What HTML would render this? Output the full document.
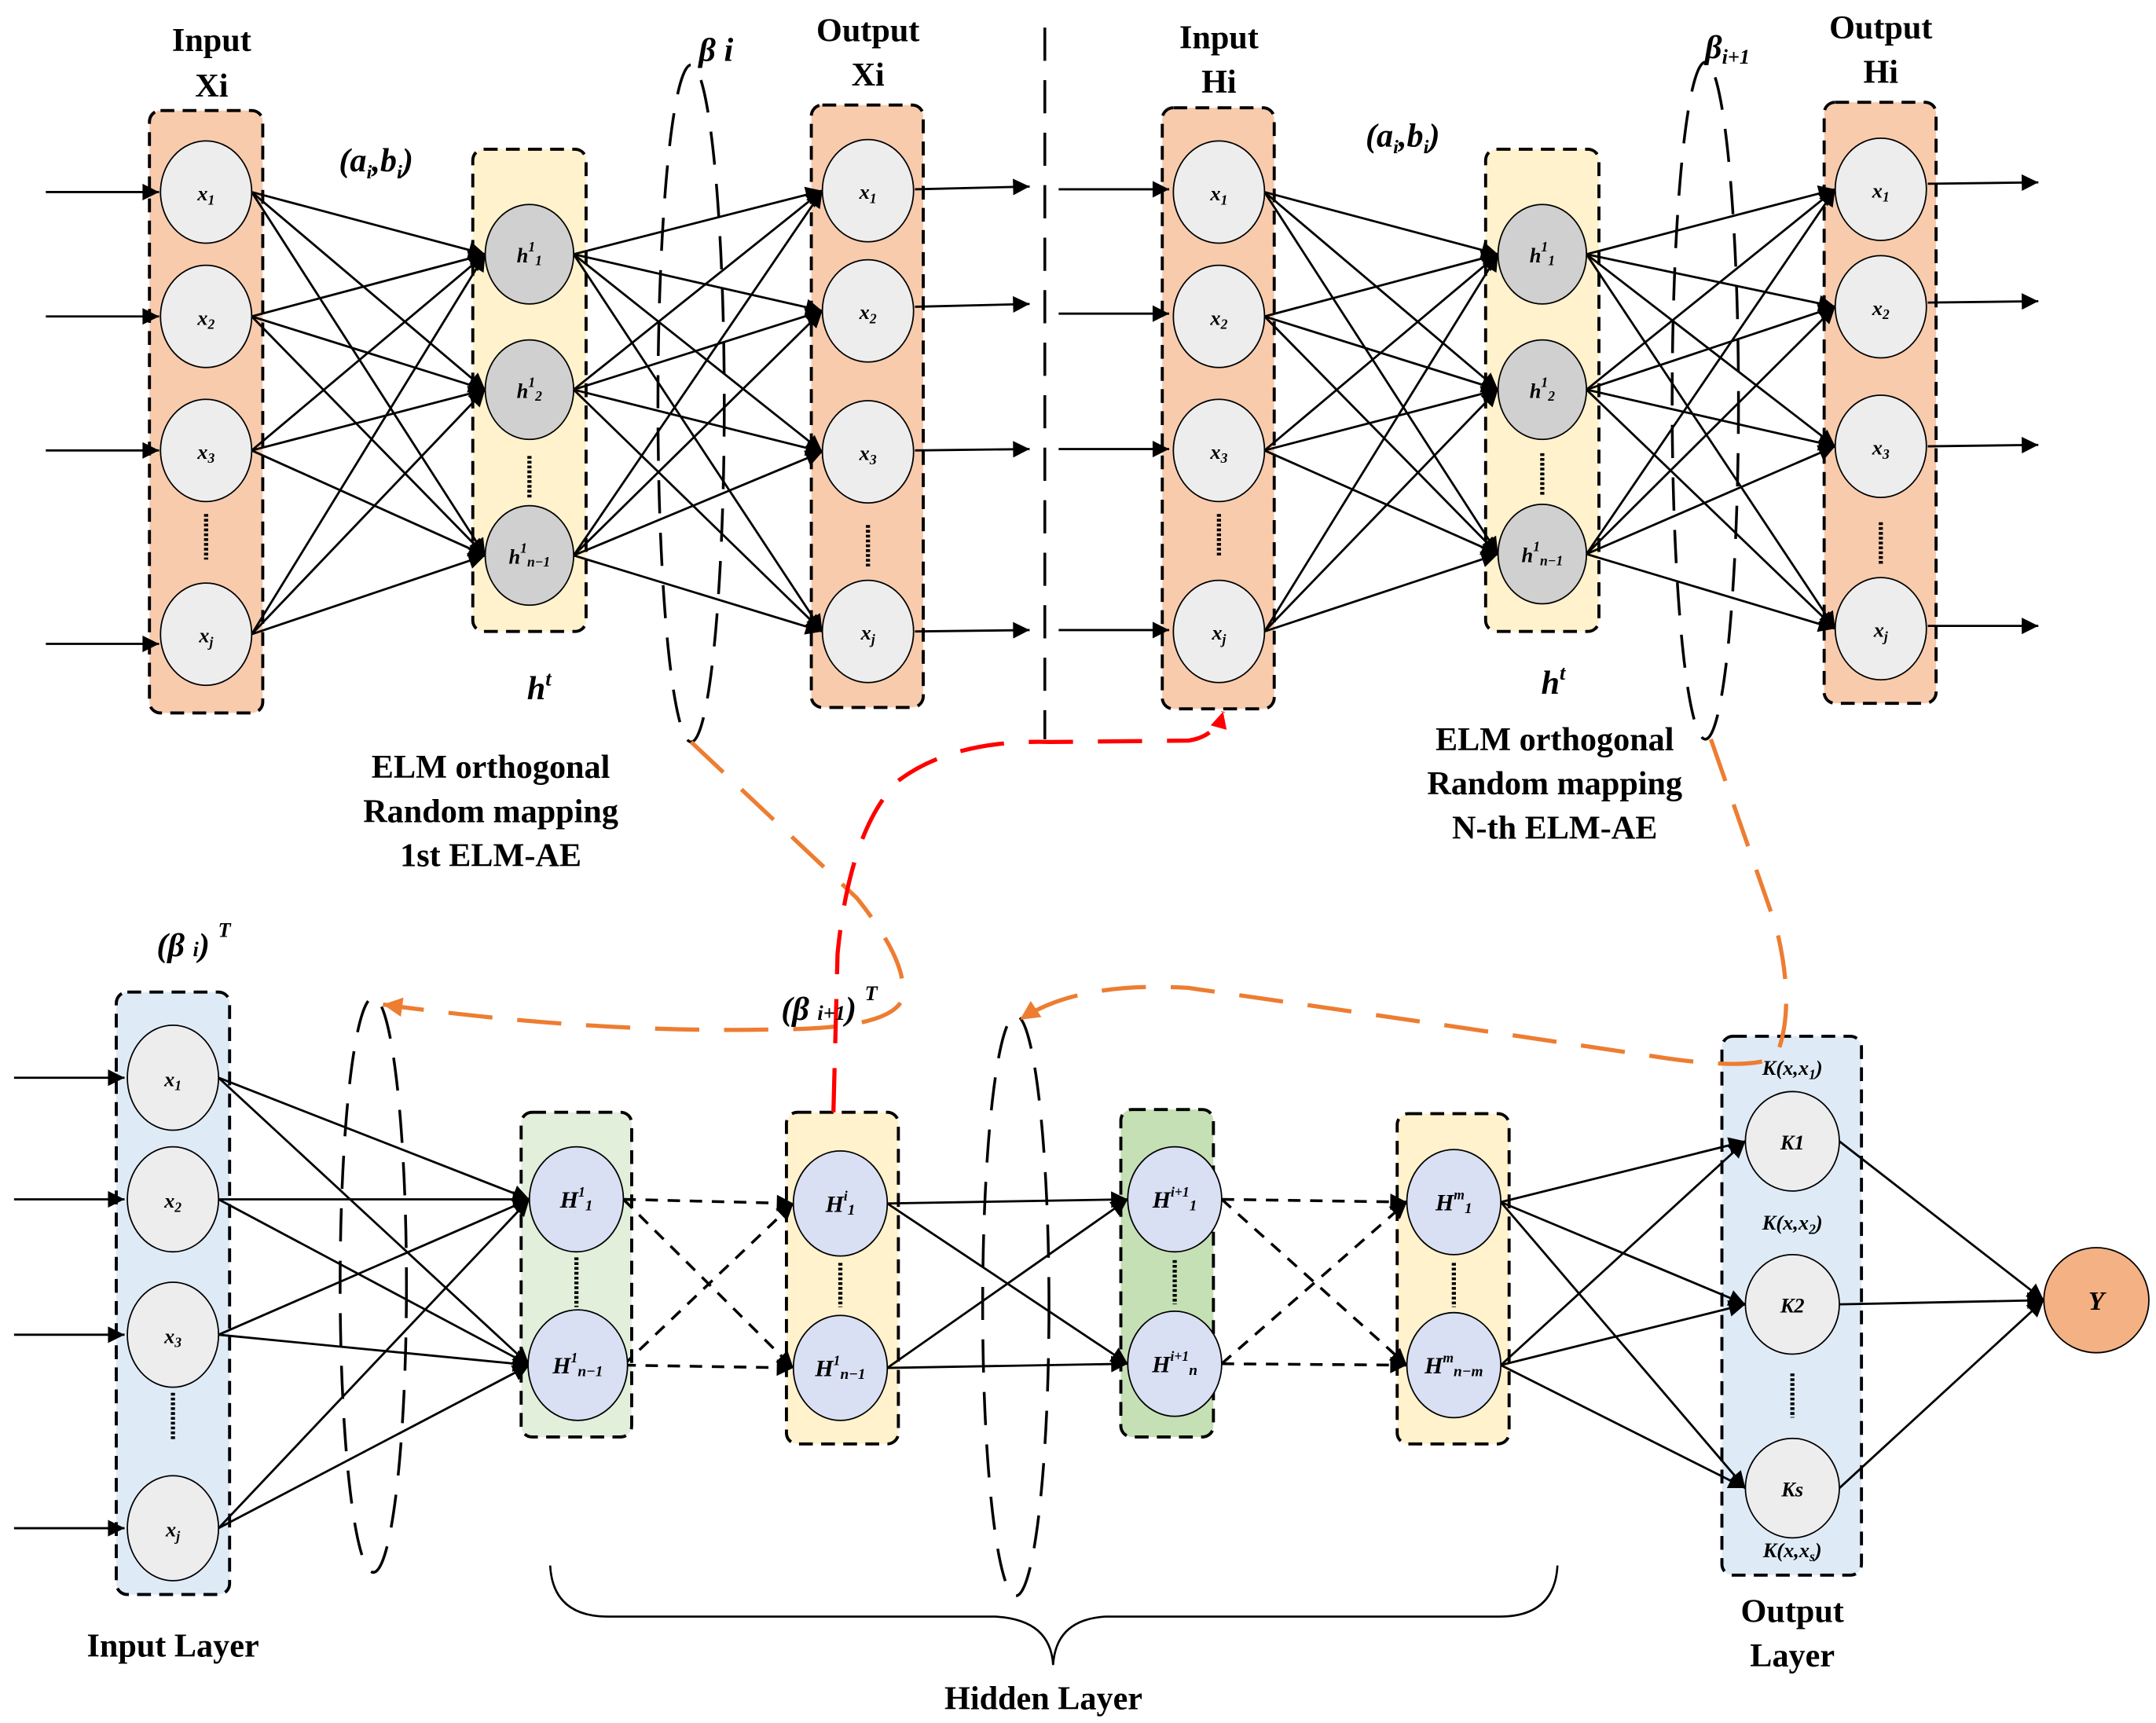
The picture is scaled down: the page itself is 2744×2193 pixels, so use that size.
<!DOCTYPE html>
<html><head><meta charset="utf-8"><style>
html,body{margin:0;padding:0;background:#fff}
svg{display:block}
text{font-family:"Liberation Serif",serif}
.t{font-weight:bold;font-size:24px;text-anchor:middle}
.n{font-style:italic;font-weight:bold;font-size:15px;text-anchor:middle}
.l{stroke:#000;stroke-width:1.6;fill:none}
.d{stroke:#000;stroke-width:2;fill:none;stroke-dasharray:9,7}
.box{stroke:#000;stroke-width:2.2;stroke-dasharray:10,6}
</style></head><body>
<svg width="2744" height="2193" viewBox="0 0 1560 1247" xmlns="http://www.w3.org/2000/svg">
<defs>
<marker id="a" viewBox="0 0 10 10" refX="10" refY="5" markerWidth="14" markerHeight="12" markerUnits="userSpaceOnUse" orient="auto"><path d="M0,0L10,5L0,10z" fill="#000"/></marker>
<marker id="o" viewBox="0 0 10 10" refX="10" refY="5" markerWidth="16" markerHeight="14" markerUnits="userSpaceOnUse" orient="auto"><path d="M0,0L10,5L0,10z" fill="#ED7D31"/></marker>
<marker id="r" viewBox="0 0 10 10" refX="10" refY="5" markerWidth="14" markerHeight="12" markerUnits="userSpaceOnUse" orient="auto"><path d="M0,0L10,5L0,10z" fill="#f00"/></marker>
</defs>

<!-- boxes top -->
<rect x="108" y="80" width="82" height="436" rx="8" fill="#F8CBAD" class="box"/>
<rect x="342" y="108" width="82" height="349" rx="8" fill="#FFF2CC" class="box"/>
<rect x="587" y="76" width="81" height="436" rx="8" fill="#F8CBAD" class="box"/>
<rect x="841" y="78" width="81" height="435" rx="8" fill="#F8CBAD" class="box"/>
<rect x="1075" y="108" width="82" height="349" rx="8" fill="#FFF2CC" class="box"/>
<rect x="1320" y="74" width="81" height="435" rx="8" fill="#F8CBAD" class="box"/>
<!-- boxes bottom -->
<rect x="84" y="718" width="82" height="436" rx="8" fill="#DEEBF7" class="box"/>
<rect x="377" y="805" width="80" height="235" rx="8" fill="#E2EFDA" class="box"/>
<rect x="569" y="805" width="81" height="240" rx="8" fill="#FFF2CC" class="box"/>
<rect x="811" y="803" width="67" height="237" rx="8" fill="#C5E0B4" class="box"/>
<rect x="1011" y="806" width="81" height="239" rx="8" fill="#FFF2CC" class="box"/>
<rect x="1246" y="750" width="101" height="390" rx="8" fill="#DEEBF7" class="box"/>

<!-- dashed ellipses / separators -->
<g fill="none" stroke="#000" stroke-width="2" stroke-dasharray="24,14">
<ellipse cx="500" cy="292" rx="24" ry="245"/>
<ellipse cx="1234" cy="290" rx="24" ry="245"/>
<ellipse cx="270" cy="930" rx="24" ry="208"/>
<ellipse cx="735" cy="945" rx="24" ry="210"/>
<line x1="756" y1="20" x2="756" y2="535"/>
</g>

<!-- input arrows -->
<g class="l" stroke-width="2" marker-end="url(#a)">
<line x1="33" y1="139" x2="115" y2="139"/><line x1="33" y1="229" x2="115" y2="229"/><line x1="33" y1="326" x2="115" y2="326"/><line x1="33" y1="466" x2="115" y2="466"/>
<line x1="662" y1="137" x2="745" y2="135"/><line x1="662" y1="222" x2="745" y2="220"/><line x1="662" y1="326" x2="745" y2="325"/><line x1="662" y1="457" x2="745" y2="456"/>
<line x1="766" y1="137" x2="846" y2="137"/><line x1="766" y1="227" x2="846" y2="227"/><line x1="766" y1="325" x2="846" y2="325"/><line x1="766" y1="456" x2="846" y2="456"/>
<line x1="1395" y1="133" x2="1475" y2="132"/><line x1="1395" y1="219" x2="1475" y2="218"/><line x1="1395" y1="323" x2="1475" y2="322"/><line x1="1395" y1="453" x2="1475" y2="453"/>
<line x1="10" y1="780" x2="90" y2="780"/><line x1="10" y1="868" x2="90" y2="868"/><line x1="10" y1="966" x2="90" y2="966"/><line x1="10" y1="1106" x2="90" y2="1106"/>
</g>

<!-- top-left connections -->
<g class="l" marker-end="url(#a)">
<line x1="182" y1="139" x2="351" y2="184"/><line x1="182" y1="139" x2="351" y2="282"/><line x1="182" y1="139" x2="351" y2="402"/>
<line x1="182" y1="229" x2="351" y2="184"/><line x1="182" y1="229" x2="351" y2="282"/><line x1="182" y1="229" x2="351" y2="402"/>
<line x1="182" y1="326" x2="351" y2="184"/><line x1="182" y1="326" x2="351" y2="282"/><line x1="182" y1="326" x2="351" y2="402"/>
<line x1="182" y1="459" x2="351" y2="184"/><line x1="182" y1="459" x2="351" y2="282"/><line x1="182" y1="459" x2="351" y2="402"/>
<line x1="415" y1="184" x2="595" y2="138"/><line x1="415" y1="184" x2="595" y2="225"/><line x1="415" y1="184" x2="595" y2="327"/><line x1="415" y1="184" x2="595" y2="457"/>
<line x1="415" y1="282" x2="595" y2="138"/><line x1="415" y1="282" x2="595" y2="225"/><line x1="415" y1="282" x2="595" y2="327"/><line x1="415" y1="282" x2="595" y2="457"/>
<line x1="415" y1="402" x2="595" y2="138"/><line x1="415" y1="402" x2="595" y2="225"/><line x1="415" y1="402" x2="595" y2="327"/><line x1="415" y1="402" x2="595" y2="457"/>
<!-- top-right -->
<line x1="915" y1="139" x2="1084" y2="184"/><line x1="915" y1="139" x2="1084" y2="282"/><line x1="915" y1="139" x2="1084" y2="401"/>
<line x1="915" y1="229" x2="1084" y2="184"/><line x1="915" y1="229" x2="1084" y2="282"/><line x1="915" y1="229" x2="1084" y2="401"/>
<line x1="915" y1="326" x2="1084" y2="184"/><line x1="915" y1="326" x2="1084" y2="282"/><line x1="915" y1="326" x2="1084" y2="401"/>
<line x1="915" y1="457" x2="1084" y2="184"/><line x1="915" y1="457" x2="1084" y2="282"/><line x1="915" y1="457" x2="1084" y2="401"/>
<line x1="1148" y1="184" x2="1328" y2="137"/><line x1="1148" y1="184" x2="1328" y2="222"/><line x1="1148" y1="184" x2="1328" y2="323"/><line x1="1148" y1="184" x2="1328" y2="455"/>
<line x1="1148" y1="282" x2="1328" y2="137"/><line x1="1148" y1="282" x2="1328" y2="222"/><line x1="1148" y1="282" x2="1328" y2="323"/><line x1="1148" y1="282" x2="1328" y2="455"/>
<line x1="1148" y1="401" x2="1328" y2="137"/><line x1="1148" y1="401" x2="1328" y2="222"/><line x1="1148" y1="401" x2="1328" y2="323"/><line x1="1148" y1="401" x2="1328" y2="455"/>
<!-- bottom -->
<line x1="158" y1="780" x2="383" y2="868"/><line x1="158" y1="780" x2="383" y2="988"/>
<line x1="158" y1="868" x2="383" y2="868"/><line x1="158" y1="868" x2="383" y2="988"/>
<line x1="158" y1="966" x2="383" y2="868"/><line x1="158" y1="966" x2="383" y2="988"/>
<line x1="158" y1="1106" x2="383" y2="868"/><line x1="158" y1="1106" x2="383" y2="988"/>
<line x1="642" y1="871" x2="816" y2="868"/><line x1="642" y1="871" x2="816" y2="987"/>
<line x1="642" y1="990" x2="816" y2="868"/><line x1="642" y1="990" x2="816" y2="987"/>
<line x1="1086" y1="870" x2="1263" y2="826"/><line x1="1086" y1="870" x2="1263" y2="944"/><line x1="1086" y1="870" x2="1263" y2="1077"/>
<line x1="1086" y1="988" x2="1263" y2="826"/><line x1="1086" y1="988" x2="1263" y2="944"/><line x1="1086" y1="988" x2="1263" y2="1077"/>
<line x1="1331" y1="826" x2="1479" y2="941"/><line x1="1331" y1="944" x2="1479" y2="941"/><line x1="1331" y1="1077" x2="1479" y2="941"/>
</g>
<g class="d" marker-end="url(#a)">
<line x1="451" y1="868" x2="574" y2="871"/><line x1="451" y1="868" x2="574" y2="990"/>
<line x1="451" y1="988" x2="574" y2="871"/><line x1="451" y1="988" x2="574" y2="990"/>
<line x1="884" y1="868" x2="1018" y2="870"/><line x1="884" y1="868" x2="1018" y2="988"/>
<line x1="884" y1="987" x2="1018" y2="870"/><line x1="884" y1="987" x2="1018" y2="988"/>
</g>

<!-- nodes -->
<g stroke="#000" stroke-width="1">
<g fill="#EDEDED">
<ellipse cx="149" cy="139" rx="33" ry="37"/><ellipse cx="149" cy="229" rx="33" ry="37"/><ellipse cx="149" cy="326" rx="33" ry="37"/><ellipse cx="149" cy="459" rx="33" ry="37"/>
<ellipse cx="628" cy="138" rx="33" ry="37"/><ellipse cx="628" cy="225" rx="33" ry="37"/><ellipse cx="628" cy="327" rx="33" ry="37"/><ellipse cx="628" cy="457" rx="33" ry="37"/>
<ellipse cx="882" cy="139" rx="33" ry="37"/><ellipse cx="882" cy="229" rx="33" ry="37"/><ellipse cx="882" cy="326" rx="33" ry="37"/><ellipse cx="882" cy="457" rx="33" ry="37"/>
<ellipse cx="1361" cy="137" rx="33" ry="37"/><ellipse cx="1361" cy="222" rx="33" ry="37"/><ellipse cx="1361" cy="323" rx="33" ry="37"/><ellipse cx="1361" cy="455" rx="33" ry="37"/>
<ellipse cx="125" cy="780" rx="33" ry="38"/><ellipse cx="125" cy="868" rx="33" ry="38"/><ellipse cx="125" cy="966" rx="33" ry="38"/><ellipse cx="125" cy="1106" rx="33" ry="38"/>
<ellipse cx="1297" cy="826" rx="34" ry="36"/><ellipse cx="1297" cy="944" rx="34" ry="36"/><ellipse cx="1297" cy="1077" rx="34" ry="36"/>
</g>
<g fill="#D0D0D0">
<ellipse cx="383" cy="184" rx="32" ry="36"/><ellipse cx="383" cy="282" rx="32" ry="36"/><ellipse cx="383" cy="402" rx="32" ry="36"/>
<ellipse cx="1116" cy="184" rx="32" ry="36"/><ellipse cx="1116" cy="282" rx="32" ry="36"/><ellipse cx="1116" cy="401" rx="32" ry="36"/>
</g>
<g fill="#DAE0F3">
<ellipse cx="417" cy="868" rx="34" ry="38"/><ellipse cx="418" cy="988" rx="36" ry="40"/>
<ellipse cx="608" cy="871" rx="34" ry="38"/><ellipse cx="608" cy="990" rx="34" ry="38"/>
<ellipse cx="850" cy="868" rx="34" ry="38"/><ellipse cx="850" cy="987" rx="34" ry="38"/>
<ellipse cx="1052" cy="870" rx="34" ry="38"/><ellipse cx="1052" cy="988" rx="34" ry="38"/>
</g>
<circle cx="1517" cy="941" r="38" fill="#F4B183"/>
</g>

<!-- dots -->
<g stroke="#000" stroke-width="3" stroke-dasharray="2,1.5">
<line x1="149" y1="372" x2="149" y2="405"/><line x1="383" y1="330" x2="383" y2="360"/><line x1="628" y1="380" x2="628" y2="410"/>
<line x1="882" y1="372" x2="882" y2="403"/><line x1="1116" y1="328" x2="1116" y2="358"/><line x1="1361" y1="378" x2="1361" y2="408"/>
<line x1="125" y1="1008" x2="125" y2="1042"/><line x1="417" y1="910" x2="417" y2="946"/><line x1="608" y1="914" x2="608" y2="946"/>
<line x1="850" y1="912" x2="850" y2="944"/><line x1="1052" y1="914" x2="1052" y2="946"/><line x1="1297" y1="994" x2="1297" y2="1026"/>
</g>

<!-- brace -->
<path d="M398,1133 Q400,1170 440,1170 L720,1170 Q760,1172 762,1205 Q764,1172 800,1170 L1085,1170 Q1125,1170 1127,1133" fill="none" stroke="#000" stroke-width="1.5"/>

<!-- orange / red paths -->
<g fill="none" stroke="#ED7D31" stroke-width="3" stroke-dasharray="32,18">
<path d="M500,537 L620,650 Q660,700 652,725 Q640,745 560,745 Q430,748 277,727" marker-end="url(#o)"/>
<path d="M1238,535 L1285,670 Q1300,730 1285,765 Q1265,775 1200,765 Q1000,735 860,715 Q780,710 738,738" marker-end="url(#o)"/>
</g>
<path d="M603,805 L606,690 Q615,600 650,565 Q690,535 760,537 L860,536 Q880,533 885,515" fill="none" stroke="#f00" stroke-width="3" stroke-dasharray="32,18" marker-end="url(#r)"/>

<!-- titles -->
<text class="t" x="153" y="37">Input</text><text class="t" x="153" y="70">Xi</text>
<text class="t" x="628" y="30">Output</text><text class="t" x="628" y="62">Xi</text>
<text class="t" x="882" y="35">Input</text><text class="t" x="882" y="67">Hi</text>
<text class="t" x="1361" y="28">Output</text><text class="t" x="1361" y="60">Hi</text>
<text class="t" x="518" y="44" font-style="italic">β i</text>
<text class="t" x="1250" y="42" font-style="italic">β<tspan font-size="15" dy="4">i+1</tspan></text>
<text class="t" x="272" y="124" font-style="italic">(a<tspan font-size="14" dy="5">i</tspan><tspan dy="-5">,b</tspan><tspan font-size="14" dy="5">i</tspan><tspan dy="-5">)</tspan></text>
<text class="t" x="1015" y="106" font-style="italic">(a<tspan font-size="14" dy="5">i</tspan><tspan dy="-5">,b</tspan><tspan font-size="14" dy="5">i</tspan><tspan dy="-5">)</tspan></text>
<text class="t" x="390" y="506" font-style="italic">h<tspan font-size="15" dy="-10">t</tspan></text>
<text class="t" x="1124" y="502" font-style="italic">h<tspan font-size="15" dy="-10">t</tspan></text>
<text class="t" x="355" y="563">ELM orthogonal</text><text class="t" x="355" y="595">Random mapping</text><text class="t" x="355" y="627">1st ELM-AE</text>
<text class="t" x="1125" y="543">ELM orthogonal</text><text class="t" x="1125" y="575">Random mapping</text><text class="t" x="1125" y="607">N-th ELM-AE</text>
<text class="t" x="140" y="692" font-style="italic">(β <tspan font-size="15">i</tspan>) <tspan font-size="15" dy="-14">T</tspan></text>
<text class="t" x="600" y="738" font-style="italic">(β <tspan font-size="15">i+1</tspan>) <tspan font-size="15" dy="-14">T</tspan></text>
<text class="t" x="125" y="1199">Input Layer</text>
<text class="t" x="755" y="1237">Hidden Layer</text>
<text class="t" x="1297" y="1174">Output</text><text class="t" x="1297" y="1206">Layer</text>

<!-- node labels -->
<g class="n">
<text x="149" y="145">x<tspan font-size="10" dy="3">1</tspan></text><text x="149" y="235">x<tspan font-size="10" dy="3">2</tspan></text><text x="149" y="332">x<tspan font-size="10" dy="3">3</tspan></text><text x="149" y="465">x<tspan font-size="10" dy="3">j</tspan></text>
<text x="628" y="144">x<tspan font-size="10" dy="3">1</tspan></text><text x="628" y="231">x<tspan font-size="10" dy="3">2</tspan></text><text x="628" y="333">x<tspan font-size="10" dy="3">3</tspan></text><text x="628" y="463">x<tspan font-size="10" dy="3">j</tspan></text>
<text x="882" y="145">x<tspan font-size="10" dy="3">1</tspan></text><text x="882" y="235">x<tspan font-size="10" dy="3">2</tspan></text><text x="882" y="332">x<tspan font-size="10" dy="3">3</tspan></text><text x="882" y="463">x<tspan font-size="10" dy="3">j</tspan></text>
<text x="1361" y="143">x<tspan font-size="10" dy="3">1</tspan></text><text x="1361" y="228">x<tspan font-size="10" dy="3">2</tspan></text><text x="1361" y="329">x<tspan font-size="10" dy="3">3</tspan></text><text x="1361" y="461">x<tspan font-size="10" dy="3">j</tspan></text>
<text x="125" y="786">x<tspan font-size="10" dy="3">1</tspan></text><text x="125" y="874">x<tspan font-size="10" dy="3">2</tspan></text><text x="125" y="972">x<tspan font-size="10" dy="3">3</tspan></text><text x="125" y="1112">x<tspan font-size="10" dy="3">j</tspan></text>
<text x="383" y="190">h<tspan font-size="10" dy="-8">1</tspan><tspan font-size="10" dy="10">1</tspan></text>
<text x="383" y="288">h<tspan font-size="10" dy="-8">1</tspan><tspan font-size="10" dy="10">2</tspan></text>
<text x="383" y="408">h<tspan font-size="10" dy="-8">1</tspan><tspan font-size="10" dy="10">n−1</tspan></text>
<text x="1116" y="190">h<tspan font-size="10" dy="-8">1</tspan><tspan font-size="10" dy="10">1</tspan></text>
<text x="1116" y="288">h<tspan font-size="10" dy="-8">1</tspan><tspan font-size="10" dy="10">2</tspan></text>
<text x="1116" y="407">h<tspan font-size="10" dy="-8">1</tspan><tspan font-size="10" dy="10">n−1</tspan></text>
<text x="417" y="874" font-size="17">H<tspan font-size="10" dy="-8">1</tspan><tspan font-size="11" dy="10">1</tspan></text>
<text x="418" y="994" font-size="17">H<tspan font-size="10" dy="-8">1</tspan><tspan font-size="11" dy="10">n−1</tspan></text>
<text x="608" y="877" font-size="17">H<tspan font-size="10" dy="-8">i</tspan><tspan font-size="11" dy="10">1</tspan></text>
<text x="608" y="996" font-size="17">H<tspan font-size="10" dy="-8">1</tspan><tspan font-size="11" dy="10">n−1</tspan></text>
<text x="850" y="874" font-size="17">H<tspan font-size="10" dy="-8">i+1</tspan><tspan font-size="11" dy="10">1</tspan></text>
<text x="850" y="993" font-size="17">H<tspan font-size="10" dy="-8">i+1</tspan><tspan font-size="11" dy="10">n</tspan></text>
<text x="1052" y="876" font-size="17">H<tspan font-size="10" dy="-8">m</tspan><tspan font-size="11" dy="10">1</tspan></text>
<text x="1052" y="994" font-size="17">H<tspan font-size="10" dy="-8">m</tspan><tspan font-size="11" dy="10">n−m</tspan></text>
<text x="1297" y="832">K1</text><text x="1297" y="950">K2</text><text x="1297" y="1083">Ks</text>
<text x="1517" y="948" font-size="19">Y</text>
<text x="1297" y="778">K(x,x<tspan font-size="10" dy="3">1</tspan><tspan dy="-3">)</tspan></text>
<text x="1297" y="890">K(x,x<tspan font-size="10" dy="3">2</tspan><tspan dy="-3">)</tspan></text>
<text x="1297" y="1127">K(x,x<tspan font-size="10" dy="3">s</tspan><tspan dy="-3">)</tspan></text>
</g>
</svg>
</body></html>
